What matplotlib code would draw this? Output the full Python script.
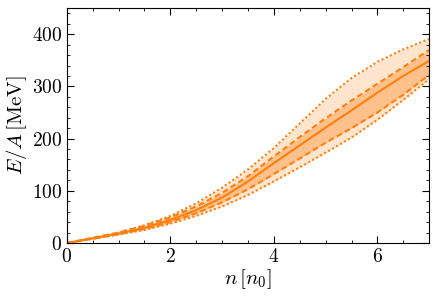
from matplotlib import pyplot as plt
from matplotlib.ticker import MultipleLocator

# density in units of n0
n = [0.0, 0.5, 1.0, 1.5, 2.0, 2.5, 3.0, 3.5, 4.0, 4.5, 5.0, 5.5, 6.0, 6.5, 7.0]

# energy per particle [MeV]
e_mid = [0, 9, 18, 29, 44, 63, 87, 118, 153, 187, 221, 254, 288, 320, 349]
e_dash_hi = [0, 10, 20, 33, 49, 70, 96, 128, 166, 203, 239, 273, 305, 337, 370]
e_dash_lo = [0, 8, 17, 27, 40, 57, 78, 103, 132, 162, 192, 220, 250, 284, 322]
e_dot_hi = [0, 9, 20, 34, 52, 76, 106, 141, 182, 229, 276, 316, 347, 371, 391]
e_dot_lo = [0, 8, 16, 25, 37, 52, 70, 92, 118, 145, 173, 202, 236, 274, 314]

plt.rcParams['font.family'] = 'serif'
plt.rcParams['font.serif'] = ['cmr10']
plt.rcParams['mathtext.fontset'] = 'cm'
plt.rcParams['axes.formatter.use_mathtext'] = True

orange = '#ff7f0e'
lw = 1.5

fig = plt.figure(figsize=(4.37, 3.0), dpi=100)
ax = fig.add_axes([0.153, 0.19, 0.829, 0.783])

ax.fill_between(n, e_dot_lo, e_dot_hi, color=orange, alpha=0.2, linewidth=0)
ax.fill_between(n, e_dash_lo, e_dash_hi, color=orange, alpha=0.35, linewidth=0)
ax.plot(n, e_mid, '-', color=orange, linewidth=lw)
for e in (e_dash_hi, e_dash_lo):
    ax.plot(n, e, color=orange, linewidth=lw, dashes=(2.8, 1.6))
for e in (e_dot_hi, e_dot_lo):
    ax.plot(n, e, color=orange, linewidth=lw, dashes=(1, 1.2))

ax.set_xlim(0, 7)
ax.set_ylim(0, 450)
ax.xaxis.set_major_locator(MultipleLocator(2))
ax.xaxis.set_minor_locator(MultipleLocator(0.5))
ax.yaxis.set_major_locator(MultipleLocator(100))
ax.yaxis.set_minor_locator(MultipleLocator(20))
ax.tick_params(which='both', direction='in', top=True, right=True, labelsize=14)
ax.tick_params(which='major', length=5)
ax.tick_params(which='minor', length=2.5)

ax.set_xlabel(r'$n\,[n_0]$', fontsize=15, labelpad=1)
ax.set_ylabel(r'$E/A\,[\mathrm{MeV}]$', fontsize=15, labelpad=2)

fig.savefig('out.png', dpi=100)
